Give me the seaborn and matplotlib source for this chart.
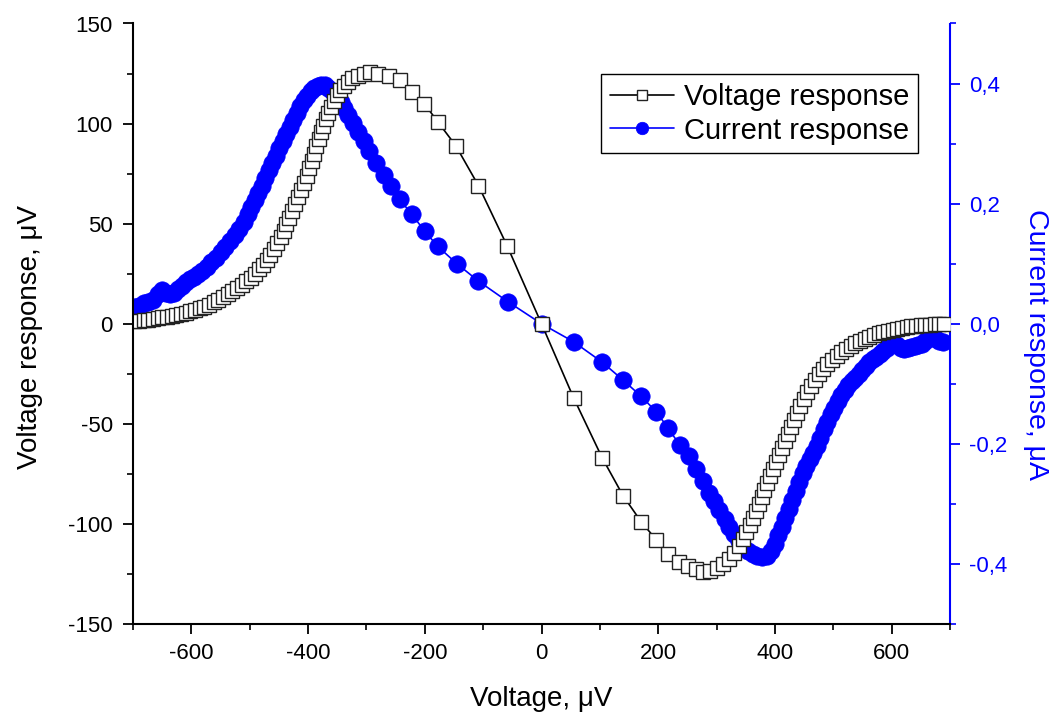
import matplotlib
matplotlib.use("Agg")
import matplotlib.pyplot as plt
import seaborn as sns
import pandas as pd
from matplotlib.ticker import MultipleLocator, FuncFormatter

# ---------------- data ----------------
volt_x = [-698, -690, -682, -674, -666, -658, -650, -642, -634, -626, -618, -610, -602, -594,
          -586, -578, -570, -562, -554, -546, -538, -530, -522, -514, -506, -498, -491, -484,
          -477, -471, -465, -459, -453, -447, -442, -437, -432, -427, -422, -417, -412, -407,
          -402, -398, -394, -390, -386, -382, -378, -374, -370, -366, -361, -356, -351, -345,
          -339, -332, -324, -315, -305, -294, -280, -262, -243, -222, -201, -178, -147, -108,
          -59, 0,
          55, 104, 140, 171, 197, 217, 236, 251, 265, 277, 289, 300, 311, 321, 330, 338, 345,
          351, 357, 362, 367, 372, 377, 382, 387, 392, 397, 402, 407, 412, 417, 422, 427, 432,
          437, 443, 449, 455, 461, 468, 475, 482, 490, 498, 506, 514, 522, 530, 538, 546, 554,
          562, 570, 578, 586, 594, 602, 610, 618, 626, 634, 642, 650, 658, 666, 674, 682, 690]
volt_y = [1.2, 1.4, 1.7, 2.0, 2.4, 2.8, 3.2, 3.6, 4.0, 4.5, 5.0, 5.6, 6.2, 6.9,
          7.7, 8.6, 9.6, 10.8, 12.1, 13.4, 14.9, 16.5, 18.0, 19.6, 21.2, 23.0, 25.0, 27.3,
          29.6, 32.0, 34.5, 37.3, 40.3, 43.5, 46.5, 49.8, 53.0, 56.3, 59.8, 63.3, 66.8, 70.4,
          74.0, 77.7, 81.4, 85.0, 88.6, 92.2, 95.6, 99.0, 102.2, 105.2, 108.5, 111.5, 114.2, 116.6,
          118.8, 120.8, 122.6, 124.0, 125.0, 125.6, 125.0, 123.7, 121.8, 116.0, 110.0, 101.0, 89.0, 69.0,
          39.0, 0.0,
          -37.0, -67.0, -86.0, -99.0, -108.0, -115.0, -119.0, -121.0, -122.5, -124.0, -123.5, -122.0,
          -120.0, -117.5, -114.5, -111.0, -107.5,
          -104.0, -100.5, -97.0, -93.5, -90.0, -86.5, -83.0, -79.5, -76.0, -72.5, -69.0, -65.5,
          -62.0, -58.5, -55.0, -51.5, -48.0,
          -44.5, -41.0, -37.5, -34.2, -31.0, -28.0, -25.2, -22.6, -20.2, -18.0, -16.0, -14.2,
          -12.6, -11.1, -9.8, -8.6, -7.5,
          -6.5, -5.6, -4.8, -4.1, -3.5, -2.9, -2.4, -2.0, -1.6, -1.3, -1.0, -0.8, -0.6, -0.4,
          -0.3, -0.2, -0.1]

curr_x = [-698, -690, -682, -674, -666, -658, -651, -644, -637, -630, -623, -616, -609, -602,
          -595, -588, -581, -574, -566, -558, -550, -542, -534, -526, -518, -510, -503, -497,
          -491, -485, -479, -473, -467, -461, -455, -449, -443, -437, -431, -425, -419, -413,
          -407, -401, -395, -389, -383, -377, -371, -365, -359, -352, -344, -338, -331, -323,
          -314, -305, -296, -283, -270, -258, -243, -222, -200, -178, -145, -108, -58, 0,
          55, 104, 140, 171, 197, 217, 237, 252, 265, 277, 287, 296, 305, 314, 322, 330, 338,
          346, 354, 362, 370, 378, 386, 393, 400, 406, 412, 418, 424, 430, 436, 442, 448, 454,
          460, 466, 472, 478, 484, 490, 496, 502, 508, 514, 520, 526, 532, 538, 544, 550, 556,
          562, 568, 574, 580, 586, 592, 598, 604, 610, 616, 622, 628, 634, 640, 646, 652, 658,
          664, 670, 676, 682, 688]
curr_y = [0.028, 0.030, 0.034, 0.036, 0.040, 0.050, 0.057, 0.052, 0.050, 0.052, 0.058, 0.063,
          0.070, 0.074, 0.078, 0.083, 0.088, 0.094, 0.102, 0.110, 0.119, 0.128, 0.137, 0.147,
          0.158, 0.170, 0.182, 0.194, 0.206, 0.218, 0.230, 0.243, 0.256, 0.268, 0.280, 0.292,
          0.304, 0.316, 0.328, 0.340, 0.351, 0.362, 0.372, 0.380, 0.387, 0.392, 0.396, 0.398,
          0.397, 0.393, 0.387, 0.379, 0.370, 0.360, 0.347, 0.334, 0.320, 0.305, 0.287, 0.268,
          0.248, 0.230, 0.207, 0.182, 0.154, 0.129, 0.100, 0.071, 0.037, 0.0,
          -0.030, -0.064, -0.094, -0.121, -0.147, -0.174, -0.202, -0.221, -0.242, -0.262, -0.282,
          -0.296, -0.310, -0.325, -0.338, -0.350, -0.362,
          -0.371, -0.378, -0.383, -0.387, -0.389, -0.386, -0.378, -0.366, -0.352, -0.338, -0.323,
          -0.308, -0.293, -0.278, -0.263, -0.249, -0.237,
          -0.226, -0.215, -0.204, -0.191, -0.176, -0.163, -0.151, -0.140, -0.129, -0.119, -0.110,
          -0.102, -0.096, -0.090, -0.084, -0.077, -0.070,
          -0.064, -0.059, -0.055, -0.051, -0.046, -0.040, -0.034, -0.033, -0.036, -0.040, -0.042,
          -0.040, -0.038, -0.037, -0.036, -0.033, -0.028,
          -0.023, -0.022, -0.026, -0.028, -0.030]

x_ticks = [-600, -400, -200, 0, 200, 400, 600]
left_ticks = [-150, -100, -50, 0, 50, 100, 150]
right_ticks = [-0.4, -0.2, 0.0, 0.2, 0.4]

volt_df = pd.DataFrame({"x": volt_x, "y": volt_y})
curr_df = pd.DataFrame({"x": curr_x, "y": curr_y})

# ---------------- style ----------------
sns.set_style("ticks")
plt.rcParams["font.family"] = ["Liberation Sans", "DejaVu Sans"]
plt.rcParams["text.color"] = "black"
plt.rcParams["axes.labelcolor"] = "black"
plt.rcParams["xtick.color"] = "black"
plt.rcParams["ytick.color"] = "black"

BLUE = "#0000FF"
fig = plt.figure(figsize=(10.55, 7.15), dpi=100)
W, H = 1055, 715
ax = fig.add_axes([133 / W, 1 - 624 / H, (950 - 133) / W, (624 - 23.5) / H])
ax2 = ax.twinx()

sns.lineplot(data=curr_df, x="x", y="y", ax=ax2, sort=False, estimator=None,
             color=BLUE, linewidth=1.2, marker="o", markersize=12.5,
             markerfacecolor=BLUE, markeredgecolor=BLUE, markeredgewidth=0.5)
sns.lineplot(data=volt_df, x="x", y="y", ax=ax, sort=False, estimator=None,
             color="black", linewidth=1.2, marker="s", markersize=9.5,
             markerfacecolor="white", markeredgecolor="#222222", markeredgewidth=1.0)

ax.set_zorder(ax2.get_zorder() + 1)
ax.patch.set_visible(False)

ax.set_xlim(-700, 700)
ax.set_ylim(-150, 150)
ax2.set_ylim(-0.5, 0.5)

ax.set_xticks(x_ticks)
ax.xaxis.set_minor_locator(MultipleLocator(100))
ax.set_yticks(left_ticks)
ax.yaxis.set_minor_locator(MultipleLocator(25))
ax2.set_yticks(right_ticks)
ax2.yaxis.set_minor_locator(MultipleLocator(0.1))
ax2.yaxis.set_major_formatter(FuncFormatter(lambda v, p: f"{v:.1f}".replace(".", ",")))
ax.yaxis.set_major_formatter(FuncFormatter(lambda v, p: f"{v:.0f}"))
ax.xaxis.set_major_formatter(FuncFormatter(lambda v, p: f"{v:.0f}"))

for a in (ax, ax2):
    a.spines["top"].set_visible(False)
ax.spines["right"].set_visible(False)
ax.spines["left"].set_linewidth(1.5)
ax.spines["bottom"].set_linewidth(1.5)
ax.spines["left"].set_color("black")
ax.spines["bottom"].set_color("black")
ax2.spines["left"].set_visible(False)
ax2.spines["bottom"].set_visible(False)
ax2.spines["right"].set_linewidth(1.5)
ax2.spines["right"].set_color(BLUE)

ax.tick_params(axis="both", which="major", direction="out", length=7.5, width=1.3,
               labelsize=16, color="black", labelcolor="black")
ax.tick_params(axis="x", which="major", pad=6)
ax.tick_params(axis="y", which="major", pad=7)
ax.tick_params(axis="both", which="minor", direction="out", length=4.5, width=1.2, color="black")
ax2.tick_params(axis="y", which="major", direction="out", length=7.5, width=1.3,
                labelsize=16, pad=6, colors=BLUE)
ax2.tick_params(axis="y", which="minor", direction="out", length=4.5, width=1.2, colors=BLUE)

ax.set_xlabel("Voltage, \u03bcV", fontsize=20, labelpad=16, color="black")
ax.set_ylabel("Voltage response, \u03bcV", fontsize=20, labelpad=18, color="black")
ax.yaxis.label.set_y(0.478)
ax2.set_ylabel("Current response, \u03bcA", fontsize=20.5, color=BLUE, rotation=270, labelpad=30)
ax2.yaxis.label.set_y(0.465)

h1 = ax.get_lines()[0]
h2 = ax2.get_lines()[0]
leg = ax.legend([h1, h2], ["Voltage response", "Current response"],
                loc="upper right", bbox_to_anchor=(918 / W, 1 - 74 / H),
                bbox_transform=fig.transFigure, borderaxespad=0,
                fontsize=21, frameon=True, fancybox=False, shadow=False,
                handlelength=2.2, handletextpad=0.35, borderpad=0.3,
                labelspacing=0.2, markerscale=0.72)
leg.get_frame().set_edgecolor("black")
leg.get_frame().set_linewidth(1.0)
leg.get_frame().set_alpha(1)
for t in leg.get_texts():
    t.set_color("black")

fig.savefig("out.png", dpi=100)
